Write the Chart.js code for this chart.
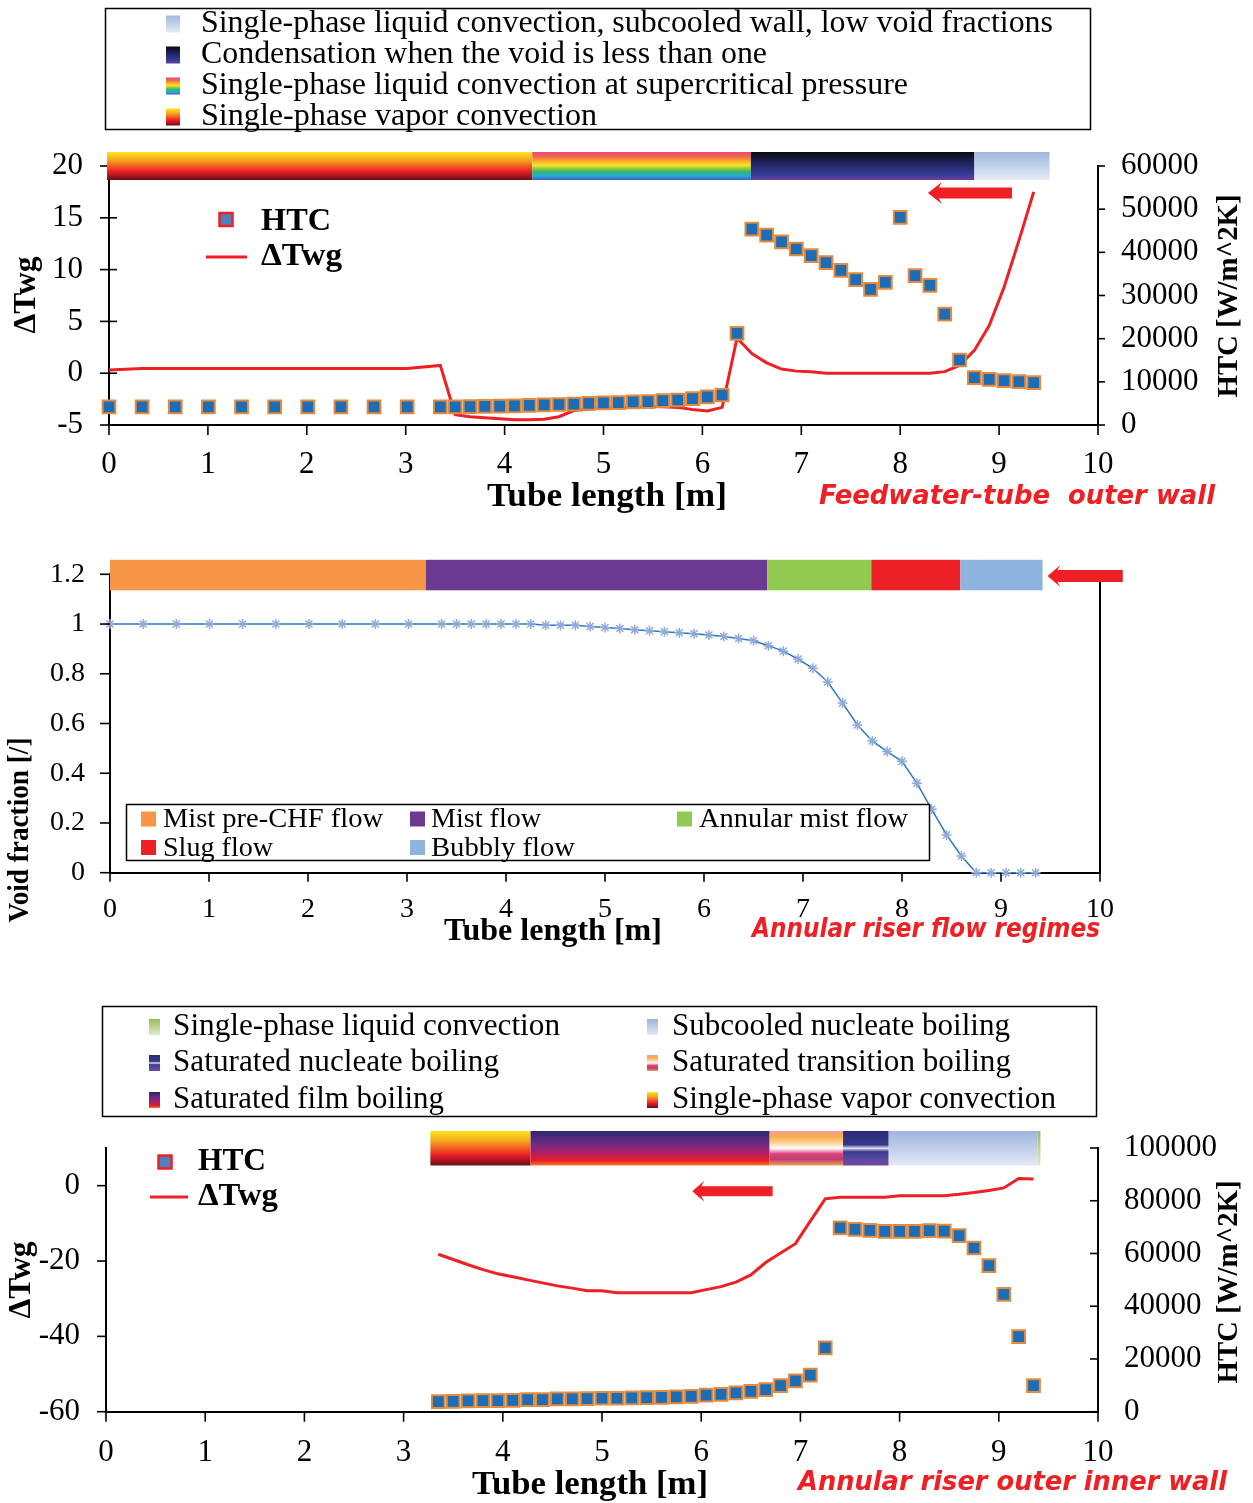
<!DOCTYPE html>
<html>
<head>
<meta charset="utf-8">
<script src="https://cdn.jsdelivr.net/npm/chart.js@4.4.1/dist/chart.umd.min.js"></script>
<style>
  body { margin: 0; background: #fff; }
  #page { position: relative; width: 1253px; height: 1503px; }
  canvas { position: absolute; left: 0; }
</style>
</head>
<body>
<div id="page">
  <canvas id="feedChart" width="1253" height="520" style="top:0;width:1253px;height:520px"></canvas>
  <canvas id="voidChart" width="1253" height="440" style="top:520px;width:1253px;height:440px"></canvas>
  <canvas id="riserChart" width="1253" height="543" style="top:960px;width:1253px;height:543px"></canvas>
  <canvas id="overlay" width="1253" height="1503" style="top:0;width:1253px;height:1503px;pointer-events:none"></canvas>
</div>
<script>
// node positions along the tube [m], shared by the three plots
const tubeLength = [0, 0.335, 0.67, 1.005, 1.34, 1.675, 2.01, 2.345, 2.68, 3.015, 3.35,
    3.50, 3.65, 3.80, 3.95, 4.10, 4.25, 4.40, 4.55, 4.70, 4.85,
    5.00, 5.15, 5.30, 5.45, 5.60, 5.75, 5.90, 6.05, 6.20, 6.35,
    6.50, 6.65, 6.80, 6.95, 7.10, 7.25, 7.40, 7.55, 7.70, 7.85,
    8.00, 8.15, 8.30, 8.45, 8.60, 8.75, 8.90, 9.05, 9.20, 9.35];

// feedwater tube, outer wall
const feedHTC = [4200, 4200, 4200, 4200, 4200, 4200, 4200, 4200, 4200, 4200, 4200,
    4200, 4250, 4300, 4350, 4450, 4550, 4650, 4750, 4850, 5000,
    5100, 5200, 5350, 5400, 5630, 5790, 6090, 6490, 6950, 21240,
    45400, 44000, 42400, 40770, 39220, 37600, 35840, 33660, 31430, 33060,
    48110, 34580, 32360, 25710, 15060, 10960, 10590, 10260, 10030, 9800];
const feedDT = [0.3, 0.45, 0.45, 0.45, 0.45, 0.45, 0.45, 0.45, 0.45, 0.45, 0.75,
    -4.0, -4.2, -4.3, -4.4, -4.5, -4.5, -4.45, -4.2, -3.6, -3.45,
    -3.35, -3.3, -3.25, -3.2, -3.25, -3.3, -3.5, -3.65, -3.3, 3.4,
    1.9, 1.0, 0.4, 0.2, 0.15, 0.0, 0.0, 0.0, 0.0, 0.0,
    0.0, 0.0, 0.0, 0.15, 0.75, 2.2, 4.6, 8.3, 12.8, 17.5];

// annular riser void fraction
const voidFraction = [1, 1, 1, 1, 1, 1, 1, 1, 1, 1, 1,
    1, 1, 1, 1, 1, 1, 0.995, 0.995, 0.995, 0.99,
    0.986, 0.982, 0.977, 0.973, 0.969, 0.965, 0.961, 0.956, 0.950, 0.942,
    0.933, 0.913, 0.891, 0.859, 0.822, 0.767, 0.682, 0.594, 0.530, 0.487,
    0.448, 0.360, 0.255, 0.152, 0.067, 0, 0, 0, 0, 0];

// annular riser, outer side of the inner wall (starts at 3.35 m)
const riserLength = tubeLength.slice(10);
const riserHTC = [3800, 3950, 4070, 4180, 4200, 4330, 4550, 4560, 4830, 4830,
    4950, 5100, 5100, 5200, 5300, 5450, 5600, 5850, 6250, 6600,
    7100, 7750, 8360, 9880, 11670, 13830, 24200, 69700, 69160, 68780,
    68400, 68400, 68400, 68650, 68500, 66770, 62080, 55370, 44470, 28500,
    9880];
const riserDT = [-18.2, -19.6, -21.0, -22.3, -23.4, -24.2, -25.0, -25.8, -26.6, -27.2,
    -27.9, -27.9, -28.4, -28.4, -28.4, -28.4, -28.4, -28.4, -27.6, -26.8,
    -25.6, -23.7, -20.4, -17.9, -15.4, -9.4, -3.5, -3.1, -3.1, -3.1,
    -3.1, -2.7, -2.7, -2.7, -2.7, -2.3, -1.8, -1.3, -0.6, 1.9,
    1.8];

// heat transfer / flow regimes along the tube, left to right, with their edges [m]
const feedRegimes = ['vapor', 'supercritical', 'condensation', 'subcooledWall'];
const feedRegimeEdges = [-0.02, 4.28, 6.49, 8.75, 9.51];
const flowRegimes = ['mistPreCHF', 'mist', 'annularMist', 'slug', 'bubbly'];
const flowRegimeEdges = [0, 3.19, 6.64, 7.69, 8.59, 9.42];
const riserRegimes = ['vapor', 'film', 'transition', 'nucleate', 'subcooled', 'liquid'];
const riserRegimeEdges = [3.27, 4.28, 6.69, 7.43, 7.89, 9.39, 9.42];

const regimeLabels = {
    subcooledWall: 'Single-phase liquid convection, subcooled wall, low void fractions',
    condensation: 'Condensation when the void is less than one',
    supercritical: 'Single-phase liquid convection at supercritical pressure',
    vapor: 'Single-phase vapor convection',
    mistPreCHF: 'Mist pre-CHF flow',
    mist: 'Mist flow',
    annularMist: 'Annular mist flow',
    slug: 'Slug flow',
    bubbly: 'Bubbly flow',
    liquid: 'Single-phase liquid convection',
    subcooled: 'Subcooled nucleate boiling',
    nucleate: 'Saturated nucleate boiling',
    transition: 'Saturated transition boiling',
    film: 'Saturated film boiling'
};

// fills (vertical gradients, top -> bottom)
const shades = {
    vapor: [[0, '#fbe81c'], [0.3, '#f6a11f'], [0.7, '#ec1c24'], [1, '#661015']],
    supercritical: [[0, '#e94482'], [0.18, '#f26c45'], [0.35, '#f8b62b'], [0.48, '#f3e524'],
        [0.6, '#8cc63f'], [0.72, '#2bb673'], [0.86, '#27aae1'], [1, '#3a5eb0']],
    condensation: [[0, '#09090f'], [0.45, '#222768'], [0.8, '#353c96'], [1, '#6a3f98']],
    subcooledWall: [[0, '#9fb7df'], [1, '#e4ebf6']],
    mistPreCHF: '#f79646',
    mist: '#6c3a92',
    annularMist: '#92c950',
    slug: '#ee2226',
    bubbly: '#8db3de',
    film: [[0, '#2b2873'], [0.35, '#6b2a82'], [0.6, '#a61f6f'], [0.86, '#ec1c24'], [1, '#f47a2a']],
    transition: [[0, '#ef9ea4'], [0.15, '#f7ad48'], [0.35, '#fbd39c'], [0.5, '#ffffff'],
        [0.66, '#e0417b'], [0.82, '#bd3e74'], [1, '#f0a24e']],
    nucleate: [[0, '#2b2a78'], [0.4, '#34388a'], [0.5, '#e0e3f0'], [0.6, '#3a3c90'],
        [0.8, '#5649a0'], [1, '#7a459f']],
    subcooled: [[0, '#9db4dd'], [1, '#e3e9f5']],
    liquid: [[0, '#9bbb59'], [1, '#e0ebd0']]
};

const red = '#ee2024';
const htcFill = '#1c6db5';
const htcEdge = '#e48a3c';
const serif = '"Liberation Serif", "Times New Roman", serif';

function pts(xs, ys) {
    return ys.map((v, i) => ({ x: xs[i], y: v }));
}

function paint(ctx, fill, y0, y1) {
    if (typeof fill === 'string') return fill;
    const g = ctx.createLinearGradient(0, y0, 0, y1);
    fill.forEach(s => g.addColorStop(s[0], s[1]));
    return g;
}

// tick marks, regime bars and flow-direction arrows
const decor = {
    id: 'decor',
    afterDraw(chart, args, o) {
        const ctx = chart.ctx, ca = chart.chartArea, xs = chart.scales.x;
        ctx.save();
        ctx.strokeStyle = '#000';
        ctx.lineWidth = 1.6;
        for (const id in o.ticks) {
            const s = chart.scales[id];
            const out = o.ticks[id][0], inn = o.ticks[id][1];
            s.ticks.forEach(t => {
                const p = s.getPixelForValue(t.value);
                ctx.beginPath();
                if (id === 'x') { ctx.moveTo(p, ca.bottom + out); ctx.lineTo(p, ca.bottom - inn); }
                else if (s.position === 'left') { ctx.moveTo(ca.left - out, p); ctx.lineTo(ca.left + inn, p); }
                else { ctx.moveTo(ca.right + out, p); ctx.lineTo(ca.right - inn, p); }
                ctx.stroke();
            });
        }
        o.regimes.forEach((r, i) => {
            const x0 = xs.getPixelForValue(o.edges[i]);
            const x1 = xs.getPixelForValue(o.edges[i + 1]);
            const y0 = ca.top + o.barTop, y1 = ca.top + o.barBottom;
            ctx.fillStyle = paint(ctx, shades[r], y0, y1);
            ctx.fillRect(x0, y0, x1 - x0, y1 - y0);
        });
        const a = o.arrow;
        const xt = xs.getPixelForValue(a.tip), xe = xs.getPixelForValue(a.tail);
        const y = chart.scales[a.axis].getPixelForValue(a.y);
        ctx.fillStyle = red;
        ctx.beginPath();
        ctx.moveTo(xt, y);
        ctx.lineTo(xt + a.head + 3, y - a.hh);
        ctx.lineTo(xt + a.head, y - a.bh);
        ctx.lineTo(xe, y - a.bh);
        ctx.lineTo(xe, y + a.bh);
        ctx.lineTo(xt + a.head, y + a.bh);
        ctx.lineTo(xt + a.head + 3, y + a.hh);
        ctx.closePath();
        ctx.fill();
        ctx.restore();
    }
};

function xAxis(pad, size, height) {
    return {
        type: 'linear', min: 0, max: 10,
        grid: { display: false, drawTicks: false },
        border: { display: true, color: '#000', width: 2 },
        ticks: { stepSize: 1, padding: pad, color: '#000', autoSkip: false, maxRotation: 0,
            font: { family: serif, size: size, lineHeight: 1.2 }, callback: v => String(v) },
        afterFit: s => { s.height = height; }
    };
}

function yAxis(pos, min, max, step, pad, size, width, showLabels) {
    return {
        type: 'linear', position: pos, min: min, max: max,
        grid: { display: false, drawTicks: false },
        border: { display: true, color: '#000', width: 2 },
        ticks: { stepSize: step, padding: pad, color: '#000', display: showLabels !== false,
            includeBounds: false,
            font: { family: serif, size: size, lineHeight: 1.2 },
            callback: v => String(+v.toFixed(1)) },
        afterFit: s => { s.width = width; }
    };
}

function htcSet(xs, ys) {
    return { label: 'HTC', data: pts(xs, ys), yAxisID: 'y2', pointStyle: 'rect', pointRadius: 9,
        backgroundColor: htcFill, borderColor: htcEdge, borderWidth: 2, clip: false };
}
function dtSet(xs, ys) {
    return { label: 'ΔTwg', data: pts(xs, ys), yAxisID: 'y', showLine: true, borderColor: red,
        borderWidth: 3, pointRadius: 0, clip: false };
}

const common = { responsive: false, animation: false, devicePixelRatio: 1, events: [] };

new Chart(document.getElementById('feedChart'), {
    type: 'scatter',
    data: { datasets: [htcSet(tubeLength, feedHTC), dtSet(tubeLength, feedDT)] },
    options: Object.assign({}, common, {
        layout: { padding: { top: 166, left: 0, right: 0, bottom: 0 } },
        plugins: {
            legend: { display: false }, tooltip: { enabled: false },
            decor: {
                ticks: { x: [10, 0], y: [9, 8], y2: [7, 0] },
                regimes: feedRegimes, edges: feedRegimeEdges, barTop: -14, barBottom: 14,
                arrow: { axis: 'y', tip: 8.28, tail: 9.13, y: 17.4, head: 11, hh: 11, bh: 5.5 }
            }
        },
        scales: {
            x: xAxis(21.5, 31, 95),
            y: yAxis('left', -5, 20, 5, 26, 31, 109),
            y2: yAxis('right', 0, 60000, 10000, 23, 31, 155)
        }
    }),
    plugins: [decor]
});

new Chart(document.getElementById('voidChart'), {
    type: 'scatter',
    data: { datasets: [{
        label: 'Void fraction', data: pts(tubeLength, voidFraction), showLine: true,
        borderColor: '#2f78bd', borderWidth: 1.5, pointStyle: 'star', pointRadius: 5,
        pointBorderColor: '#8eaadb', pointBackgroundColor: '#8eaadb', pointBorderWidth: 1.5, clip: false
    }] },
    options: Object.assign({}, common, {
        layout: { padding: { top: 54.3, left: 0, right: 0, bottom: 0 } },
        plugins: {
            legend: { display: false }, tooltip: { enabled: false },
            decor: {
                ticks: { x: [9, 0], y: [10, 0] },
                regimes: flowRegimes, edges: flowRegimeEdges, barTop: -14.5, barBottom: 16,
                arrow: { axis: 'y', tip: 9.47, tail: 10.23, y: 1.193, head: 10, hh: 11, bh: 6 }
            }
        },
        scales: {
            x: xAxis(20.5, 28, 87.3),
            y: yAxis('left', 0, 1.2, 0.2, 25, 28, 110),
            y2: yAxis('right', 0, 1.2, 0.2, 0, 28, 153, false)
        }
    }),
    plugins: [decor]
});

new Chart(document.getElementById('riserChart'), {
    type: 'scatter',
    data: { datasets: [htcSet(riserLength, riserHTC), dtSet(riserLength, riserDT)] },
    options: Object.assign({}, common, {
        layout: { padding: { top: 188, left: 0, right: 0, bottom: 0 } },
        plugins: {
            legend: { display: false }, tooltip: { enabled: false },
            decor: {
                ticks: { x: [10, 0], y: [9, 0], y2: [0, 8] },
                regimes: riserRegimes, edges: riserRegimeEdges, barTop: -17, barBottom: 17.5,
                arrow: { axis: 'y', tip: 5.91, tail: 6.72, y: -1.46, head: 9, hh: 10.5, bh: 5 }
            }
        },
        scales: {
            x: xAxis(22.5, 31, 91.3),
            y: yAxis('left', -60, 10, 20, 26, 31, 106),
            y2: yAxis('right', 0, 100000, 20000, 26, 31, 155)
        }
    }),
    plugins: [decor]
});

// legends, axis titles and captions
const ov = document.getElementById('overlay').getContext('2d');

function fitText(text, x, y, font, width, color, align, rot) {
    ov.save();
    ov.font = font;
    ov.fillStyle = color || '#000';
    ov.textBaseline = 'middle';
    ov.textAlign = align || 'left';
    const w = ov.measureText(text).width;
    ov.translate(x, y);
    if (rot) ov.rotate(rot);
    ov.scale(width / w, 1);
    ov.fillText(text, 0, 0);
    ov.restore();
}
function swatch(x, y, w, h, fill) {
    ov.fillStyle = paint(ov, fill, y, y + h);
    ov.fillRect(x, y, w, h);
}
function box(x, y, w, h) {
    ov.fillStyle = '#fff';
    ov.fillRect(x, y, w, h);
    ov.strokeStyle = '#000';
    ov.lineWidth = 1.5;
    ov.strokeRect(x, y, w, h);
}
function seriesKey(sx, sy, lx0, lx1, ly, tx, htcW, dtW, htcY) {
    ov.fillStyle = '#4f81bd';
    ov.fillRect(sx - 6.5, sy - 6.5, 13, 13);
    ov.strokeStyle = red;
    ov.lineWidth = 2.5;
    ov.strokeRect(sx - 6.5, sy - 6.5, 13, 13);
    ov.beginPath();
    ov.moveTo(lx0, ly);
    ov.lineTo(lx1, ly);
    ov.lineWidth = 3;
    ov.stroke();
    fitText('HTC', tx, htcY, 'bold 31px ' + serif, htcW);
    fitText('ΔTwg', tx, ly, 'bold 31px ' + serif, dtW);
}

const up = -Math.PI / 2;
const capFont = 'italic bold 26px "DejaVu Sans", sans-serif';

// top plot
box(105.5, 8.5, 985, 121);
['subcooledWall', 'condensation', 'supercritical', 'vapor'].forEach((r, i) => {
    const y = 24 + i * 31;
    swatch(166, y - 8.5, 14, 17, shades[r]);
    fitText(regimeLabels[r], 201, y, '31px ' + serif, [852, 566, 707, 396][i]);
});
seriesKey(226, 219.5, 206, 247, 257, 261, 70, 81, 222);
fitText('ΔTwg', 27, 295, 'bold 31px ' + serif, 77, '#000', 'center', up);
fitText('HTC [W/m^2K]', 1229, 296, 'bold 30px ' + serif, 203, '#000', 'center', up);
fitText('Tube length [m]', 607, 497, 'bold 34px ' + serif, 240, '#000', 'center');
fitText('Feedwater-tube  outer wall', 819, 497, capFont, 396, red);

// middle plot
box(126.5, 804.5, 803, 56);
[[141, 811.5, 163, 820, 220], [410, 811.5, 431, 820, 110], [677, 811.5, 699, 820, 209],
 [141, 840, 163, 849, 110], [410, 840, 431, 849, 144]].forEach((p, i) => {
    const r = flowRegimes[i];
    swatch(p[0], p[1], 15, 15, shades[r]);
    fitText(regimeLabels[r], p[2], p[3], '28px ' + serif, p[4]);
});
fitText('Void fraction [/]', 21, 830, 'bold 29px ' + serif, 185, '#000', 'center', up);
fitText('Tube length [m]', 553, 932, 'bold 31px ' + serif, 218, '#000', 'center');
fitText('Annular riser flow regimes', 752, 930, capFont, 348, red);

// bottom plot
box(102.5, 1006.5, 994, 110);
[['liquid', 'subcooled'], ['nucleate', 'transition'], ['film', 'vapor']].forEach((row, i) => {
    const y = [1027, 1063, 1100][i];
    swatch(149, y - 8, 11, 16, shades[row[0]]);
    swatch(647, y - 8, 11, 16, shades[row[1]]);
    fitText(regimeLabels[row[0]], 173, y, '31px ' + serif, [387, 326, 271][i]);
    fitText(regimeLabels[row[1]], 672, y, '31px ' + serif, [338, 339, 384][i]);
});
seriesKey(165, 1162, 150, 188, 1197, 198, 68, 80, 1162);
fitText('ΔTwg', 22, 1280, 'bold 31px ' + serif, 77, '#000', 'center', up);
fitText('HTC [W/m^2K]', 1229, 1282, 'bold 30px ' + serif, 203, '#000', 'center', up);
fitText('Tube length [m]', 590, 1485, 'bold 34px ' + serif, 236, '#000', 'center');
fitText('Annular riser outer inner wall', 798, 1483, capFont, 429, red);
</script>
</body>
</html>
